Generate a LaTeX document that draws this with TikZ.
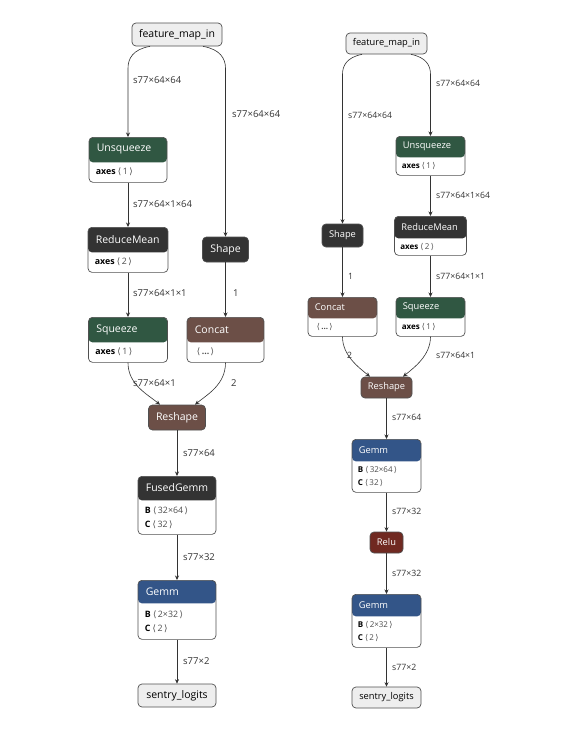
\documentclass[tikz,border=0pt]{standalone}
\usepackage{fontspec}
\setmainfont{Open Sans}
\newfontfamily\brfont{DejaVu Sans}
\usepackage{tikz}
\usetikzlibrary{arrows.meta,calc}

\definecolor{transc}{RGB}{48,87,66}
\definecolor{shapec}{RGB}{108,79,71}
\definecolor{layerc}{RGB}{51,85,136}
\definecolor{actc}{RGB}{112,41,33}
\definecolor{defc}{RGB}{51,51,51}
\definecolor{ioc}{RGB}{238,238,238}
\definecolor{boxline}{RGB}{80,80,80}

\tikzset{
  opbox/.style={draw=boxline, line width=0.7pt, rounded corners=4pt, inner sep=0pt, anchor=north, fill=white},
  hdr/.style 2 args={path picture={\fill[#1] (path picture bounding box.north west) rectangle ([yshift=-#2]path picture bounding box.north east);}},
  simple/.style={draw=boxline, line width=0.7pt, rounded corners=4pt, inner sep=0pt, text=white},
  io/.style={draw=boxline, fill=ioc, line width=0.7pt, rounded corners=4pt, inner sep=0pt},
  ttlL/.style={inner sep=0pt, anchor=west, text=white, font=\fontsize{10.5}{12}\selectfont},
  ttlR/.style={inner sep=0pt, anchor=west, text=white, font=\fontsize{9.3}{11}\selectfont},
  attrL/.style={inner sep=0pt, anchor=west, align=left, font=\fontsize{8.8}{14}\selectfont},
  attrR/.style={inner sep=0pt, anchor=west, align=left, font=\fontsize{8}{13}\selectfont},
  lblL/.style={inner sep=0pt, anchor=west, text=black!80, font=\fontsize{9.5}{11}\selectfont},
  lblR/.style={inner sep=0pt, anchor=west, text=black!80, font=\fontsize{8.7}{10}\selectfont},
  edge/.style={-{Stealth[length=4.5pt,width=4pt]}, draw=black!80, line width=0.6pt}
}
\newcommand{\ang}[1]{{\color{black!70}{\brfont ⟨}\,#1\,{\brfont ⟩}}}

\begin{document}
\begin{tikzpicture}[x=1pt,y=-1pt]
  \useasboundingbox[fill=white] (0,0) rectangle (566,737);

  % left graph
  \node[io, minimum width=90pt, minimum height=23pt, font=\fontsize{10.5}{12}\selectfont] (fmi) at (177,34.5) {feature\_map\_in};

  \node[opbox, minimum width=78pt, minimum height=45pt, hdr={transc}{25pt}] (unsq) at (128,137) {};
  \node[ttlL] (unsq-t) at ([xshift=8pt,yshift=-12.5pt]unsq.north west) {Unsqueeze};
  \node[attrL] (unsq-a) at ([xshift=7pt,yshift=-35pt]unsq.north west) {\textbf{axes} \ang{1}};

  \node[opbox, minimum width=80pt, minimum height=45pt, hdr={defc}{25pt}] (rm) at (128,227) {};
  \node[ttlL] (rm-t) at ([xshift=8pt,yshift=-12.5pt]rm.north west) {ReduceMean};
  \node[attrL] (rm-a) at ([xshift=7pt,yshift=-35pt]rm.north west) {\textbf{axes} \ang{2}};

  \node[opbox, minimum width=79pt, minimum height=45pt, hdr={transc}{25pt}] (sq) at (128,317) {};
  \node[ttlL] (sq-t) at ([xshift=8pt,yshift=-12.5pt]sq.north west) {Squeeze};
  \node[attrL] (sq-a) at ([xshift=7pt,yshift=-35pt]sq.north west) {\textbf{axes} \ang{1}};

  \node[simple, fill=defc, minimum width=46pt, minimum height=25pt, font=\fontsize{10.5}{12}\selectfont] (shp) at (225.5,249.5) {Shape};

  \node[opbox, minimum width=77pt, minimum height=45pt, hdr={shapec}{25pt}] (cc) at (225.5,317) {};
  \node[ttlL] (cc-t) at ([xshift=8pt,yshift=-12.5pt]cc.north west) {Concat};
  \node[attrL] (cc-a) at ([xshift=10pt,yshift=-35pt]cc.north west) {\ang{\textbf{...}}};

  \node[simple, fill=shapec, minimum width=57pt, minimum height=25pt, font=\fontsize{10.5}{12}\selectfont] (resh) at (177,417.5) {Reshape};

  \node[opbox, minimum width=78pt, minimum height=58pt, hdr={defc}{24pt}] (fg) at (177,476) {};
  \node[ttlL] (fg-t) at ([xshift=8pt,yshift=-12pt]fg.north west) {FusedGemm};
  \node[attrL] (fg-a) at ([xshift=7pt,yshift=-42pt]fg.north west) {\textbf{B} \ang{32×64}\\\textbf{C} \ang{32}};

  \node[opbox, minimum width=78pt, minimum height=59pt, hdr={layerc}{23pt}] (gm) at (177,580) {};
  \node[ttlL] (gm-t) at ([xshift=8pt,yshift=-11.5pt]gm.north west) {Gemm};
  \node[attrL] (gm-a) at ([xshift=7pt,yshift=-42pt]gm.north west) {\textbf{B} \ang{2×32}\\\textbf{C} \ang{2}};

  \node[io, minimum width=78pt, minimum height=23pt, font=\fontsize{10.5}{12}\selectfont] (out) at (177,695.5) {sentry\_logits};

  \draw[edge] ([xshift=-27pt]fmi.south) .. controls +(-17pt,-3pt) and +(0pt,10pt) .. ([xshift=-49pt,yshift=-22pt]fmi.south) -- (unsq.north);
  \draw[edge] ([xshift=26pt]fmi.south) .. controls +(17pt,-3pt) and +(0pt,10pt) .. ([xshift=48.5pt,yshift=-22pt]fmi.south) -- (shp.north);
  \draw[edge] (unsq.south) -- (rm.north);
  \draw[edge] (rm.south) -- (sq.north);
  \draw[edge] (shp.south) -- (cc.north);
  \draw[edge] (sq.south) .. controls +(0pt,-22pt) and +(-12pt,10pt) .. ([xshift=-17pt]resh.north);
  \draw[edge] (cc.south) .. controls +(0pt,-22pt) and +(12pt,10pt) .. ([xshift=18pt]resh.north);
  \draw[edge] (resh.south) -- (fg.north);
  \draw[edge] (fg.south) -- (gm.north);
  \draw[edge] (gm.south) -- (out.north);

  \node[lblL] (l1) at (133,80) {s77×64×64};
  \node[lblL] (l2) at (232,114) {s77×64×64};
  \node[lblL] (l3) at (133,204) {s77×64×1×64};
  \node[lblL] (l4) at (133,293) {s77×64×1×1};
  \node[lblL] (l5) at (233,293) {1};
  \node[lblL] (l6) at (133,383) {s77×64×1};
  \node[lblL] (l7) at (231,383) {2};
  \node[lblL] (l8) at (183,453) {s77×64};
  \node[lblL] (l9) at (183,557) {s77×32};
  \node[lblL] (l10) at (183,661) {s77×2};

  % right graph
  \node[io, minimum width=81pt, minimum height=21pt, font=\fontsize{9.3}{11}\selectfont] (fmi2) at (386.5,43.5) {feature\_map\_in};

  \node[opbox, minimum width=69pt, minimum height=39pt, hdr={transc}{21pt}] (unsq2) at (430.5,136) {};
  \node[ttlR] (unsq2-t) at ([xshift=7pt,yshift=-10.5pt]unsq2.north west) {Unsqueeze};
  \node[attrR] (unsq2-a) at ([xshift=6pt,yshift=-30pt]unsq2.north west) {\textbf{axes} \ang{1}};

  \node[opbox, minimum width=72pt, minimum height=39pt, hdr={defc}{22pt}] (rm2) at (430.5,216) {};
  \node[ttlR] (rm2-t) at ([xshift=7pt,yshift=-11pt]rm2.north west) {ReduceMean};
  \node[attrR] (rm2-a) at ([xshift=6pt,yshift=-30.5pt]rm2.north west) {\textbf{axes} \ang{2}};

  \node[opbox, minimum width=69pt, minimum height=39pt, hdr={transc}{21pt}] (sq2) at (430.5,297) {};
  \node[ttlR] (sq2-t) at ([xshift=7pt,yshift=-10.5pt]sq2.north west) {Squeeze};
  \node[attrR] (sq2-a) at ([xshift=6pt,yshift=-30pt]sq2.north west) {\textbf{axes} \ang{1}};

  \node[simple, fill=defc, minimum width=41pt, minimum height=23pt, font=\fontsize{9.3}{11}\selectfont] (shp2) at (342.5,235.5) {Shape};

  \node[opbox, minimum width=69pt, minimum height=39pt, hdr={shapec}{21pt}] (cc2) at (342.5,297) {};
  \node[ttlR] (cc2-t) at ([xshift=7pt,yshift=-10.5pt]cc2.north west) {Concat};
  \node[attrR] (cc2-a) at ([xshift=9pt,yshift=-30pt]cc2.north west) {\ang{\textbf{...}}};

  \node[simple, fill=shapec, minimum width=51pt, minimum height=21pt, font=\fontsize{9.3}{11}\selectfont] (resh2) at (386.5,387.5) {Reshape};

  \node[opbox, minimum width=69pt, minimum height=53pt, hdr={layerc}{22pt}] (gm1) at (386.5,439) {};
  \node[ttlR] (gm1-t) at ([xshift=7pt,yshift=-11pt]gm1.north west) {Gemm};
  \node[attrR] (gm1-a) at ([xshift=6pt,yshift=-37.5pt]gm1.north west) {\textbf{B} \ang{32×64}\\\textbf{C} \ang{32}};

  \node[simple, fill=actc, minimum width=33pt, minimum height=21pt, font=\fontsize{9.3}{11}\selectfont] (relu) at (386.5,542.5) {Relu};

  \node[opbox, minimum width=69pt, minimum height=53pt, hdr={layerc}{22pt}] (gm2) at (386.5,594) {};
  \node[ttlR] (gm2-t) at ([xshift=7pt,yshift=-11pt]gm2.north west) {Gemm};
  \node[attrR] (gm2-a) at ([xshift=6pt,yshift=-37.5pt]gm2.north west) {\textbf{B} \ang{2×32}\\\textbf{C} \ang{2}};

  \node[io, minimum width=69pt, minimum height=21pt, font=\fontsize{9.3}{11}\selectfont] (out2) at (386.5,697.5) {sentry\_logits};

  \draw[edge] ([xshift=-24.5pt]fmi2.south) .. controls +(-15pt,-3pt) and +(0pt,9pt) .. ([xshift=-44pt,yshift=-20pt]fmi2.south) -- (shp2.north);
  \draw[edge] ([xshift=24.5pt]fmi2.south) .. controls +(15pt,-3pt) and +(0pt,9pt) .. ([xshift=44pt,yshift=-20pt]fmi2.south) -- (unsq2.north);
  \draw[edge] (unsq2.south) -- (rm2.north);
  \draw[edge] (rm2.south) -- (sq2.north);
  \draw[edge] (shp2.south) -- (cc2.north);
  \draw[edge] (cc2.south) .. controls +(0pt,-19pt) and +(-11pt,9pt) .. ([xshift=-16.5pt]resh2.north);
  \draw[edge] (sq2.south) .. controls +(0pt,-19pt) and +(11pt,9pt) .. ([xshift=16.5pt]resh2.north);
  \draw[edge] (resh2.south) -- (gm1.north);
  \draw[edge] (gm1.south) -- (relu.north);
  \draw[edge] (relu.south) -- (gm2.north);
  \draw[edge] (gm2.south) -- (out2.north);

  \node[lblR] (r1) at (348,115) {s77×64×64};
  \node[lblR] (r2) at (436,83) {s77×64×64};
  \node[lblR] (r3) at (436,195) {s77×64×1×64};
  \node[lblR] (r4) at (348,276) {1};
  \node[lblR] (r5) at (436,276) {s77×64×1×1};
  \node[lblR] (r6) at (347,355) {2};
  \node[lblR] (r7) at (436,355) {s77×64×1};
  \node[lblR] (r8) at (392,417) {s77×64};
  \node[lblR] (r9) at (392,511) {s77×32};
  \node[lblR] (r10) at (392,573) {s77×32};
  \node[lblR] (r11) at (392,667) {s77×2};
\end{tikzpicture}
\end{document}
